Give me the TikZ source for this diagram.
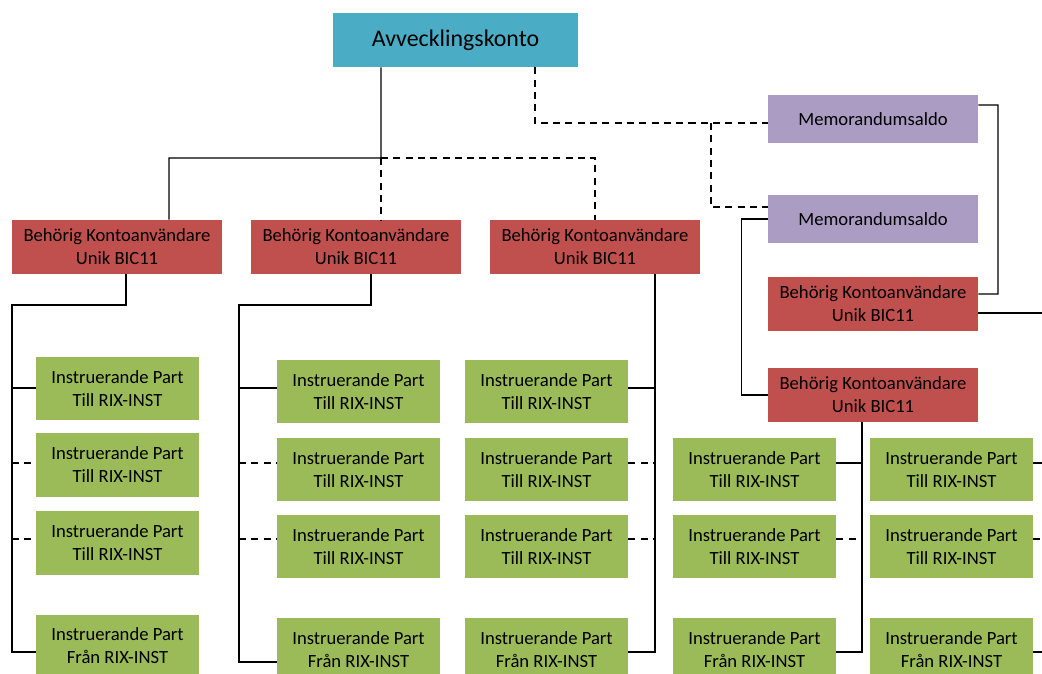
\documentclass[tikz,border=0pt]{standalone}
\usepackage{fontspec}
\setmainfont{Carlito}

\definecolor{kontoblue}{RGB}{75,172,198}
\definecolor{userred}{RGB}{192,80,77}
\definecolor{memopurple}{RGB}{170,156,195}
\definecolor{partgreen}{RGB}{155,187,89}

\begin{document}
\begin{tikzpicture}[x=0.2cm, y=0.2cm,
  box/.style={inner sep=0pt, align=center, font=\fontsize{10.6}{13.1}\selectfont},
  konto/.style={box, fill=kontoblue, minimum width=4.9cm, minimum height=1.08cm, font=\fontsize{13.6}{16}\selectfont},
  user/.style={box, fill=userred, minimum width=4.2cm, minimum height=1.08cm},
  memo/.style={box, fill=memopurple, minimum width=4.2cm, minimum height=0.96cm},
  part/.style={box, fill=partgreen, minimum width=3.26cm, minimum height=1.26cm},
  link/.style={line width=0.7pt},
  dlink/.style={line width=0.6pt, dash pattern=on 4pt off 3pt}]
\useasboundingbox (0,0) rectangle (104.2,-67.4);
\node[konto] (konto) at (45.55,-4.0) {Avvecklingskonto};
\node[user] (bk1) at (11.7,-24.7) {Behörig Kontoanvändare\\Unik BIC11};
\node[user] (bk2) at (35.6,-24.7) {Behörig Kontoanvändare\\Unik BIC11};
\node[user] (bk3) at (59.5,-24.7) {Behörig Kontoanvändare\\Unik BIC11};
\node[memo] (memo1) at (87.3,-11.9) {Memorandumsaldo};
\node[memo] (memo2) at (87.3,-21.9) {Memorandumsaldo};
\node[user] (bk4) at (87.3,-30.4) {Behörig Kontoanvändare\\Unik BIC11};
\node[user] (bk5) at (87.3,-39.5) {Behörig Kontoanvändare\\Unik BIC11};
\node[part] (g11) at (11.75,-38.85) {Instruerande Part\\Till RIX-INST};
\node[part] (g12) at (11.75,-46.5) {Instruerande Part\\Till RIX-INST};
\node[part] (g13) at (11.75,-54.3) {Instruerande Part\\Till RIX-INST};
\node[part] (g14) at (11.75,-64.6) {Instruerande Part\\Från RIX-INST};
\node[part] (g21) at (35.85,-39.15) {Instruerande Part\\Till RIX-INST};
\node[part] (g22) at (35.85,-46.95) {Instruerande Part\\Till RIX-INST};
\node[part] (g23) at (35.85,-54.65) {Instruerande Part\\Till RIX-INST};
\node[part] (g24) at (35.85,-64.95) {Instruerande Part\\Från RIX-INST};
\node[part] (g31) at (54.65,-39.15) {Instruerande Part\\Till RIX-INST};
\node[part] (g32) at (54.65,-46.95) {Instruerande Part\\Till RIX-INST};
\node[part] (g33) at (54.65,-54.65) {Instruerande Part\\Till RIX-INST};
\node[part] (g34) at (54.65,-64.95) {Instruerande Part\\Från RIX-INST};
\node[part] (g42) at (75.45,-46.95) {Instruerande Part\\Till RIX-INST};
\node[part] (g43) at (75.45,-54.65) {Instruerande Part\\Till RIX-INST};
\node[part] (g44) at (75.45,-64.95) {Instruerande Part\\Från RIX-INST};
\node[part] (g52) at (95.15,-46.95) {Instruerande Part\\Till RIX-INST};
\node[part] (g53) at (95.15,-54.65) {Instruerande Part\\Till RIX-INST};
\node[part] (g54) at (95.15,-64.95) {Instruerande Part\\Från RIX-INST};
\coordinate (hub) at (38.1,-15.8);
\coordinate (mj) at (71.1,-12.3);
\coordinate (rj) at (99.8,-10.5);
\coordinate (rim) at (104.2,0);
\coordinate (lane1) at (1.2,-30.5);
\coordinate (lane2) at (23.9,-30.5);
\coordinate (lane3) at (65.5,0);
\coordinate (lane4) at (86.2,0);
\coordinate (r0) at (0,-31.3);
\coordinate (r1) at (0,-38.8);
\coordinate (r2) at (0,-46.3);
\coordinate (r3) at (0,-53.9);
\coordinate (r4) at (0,-65.2);
\coordinate (r5) at (0,-66.2);
\draw[link] ([xshift=-1.49cm]konto.south) -- (hub) -| ([xshift=1.04cm]bk1.north);
\draw[dlink] (hub) -- (hub |- bk2.north);
\draw[dlink] (hub) -| (bk3.north);
\draw[dlink] ([xshift=1.59cm]konto.south) |- (mj) -- (mj -| memo1.west);
\draw[dlink] (mj) |- ([yshift=0.24cm]memo2.west);
\draw[link] ([yshift=0.28cm]memo1.east) -- (rj) |- ([yshift=0.2cm]bk4.east);
\draw[link] (bk4.east |- r0) -- (rim |- r0);
\draw[link] (memo2.west) -- ++(-0.52cm,0) |- (bk5.west);
\draw[link] ([xshift=0.18cm]bk1.south) |- (lane1) |- (g14.west |- r4);
\draw[link] (lane1 |- r1) -- (g11.west |- r1);
\draw[dlink] (lane1 |- r2) -- (g12.west |- r2);
\draw[dlink] (lane1 |- r3) -- (g13.west |- r3);
\draw[link] ([xshift=0.3cm]bk2.south) |- (lane2) |- (g24.west |- r5);
\draw[link] (lane2 |- r1) -- (g21.west |- r1);
\draw[dlink] (lane2 |- r2) -- (g22.west |- r2);
\draw[dlink] (lane2 |- r3) -- (g23.west |- r3);
\draw[link] (lane3 |- bk3.south) -- (lane3 |- r4) -- (g34.east |- r4);
\draw[link] (g31.east |- r1) -- (lane3 |- r1);
\draw[dlink] (g32.east |- r2) -- (lane3 |- r2);
\draw[dlink] (g33.east |- r3) -- (lane3 |- r3);
\draw[link] (lane4 |- bk5.south) -- (lane4 |- r4) -- (g44.east |- r4);
\draw[link] (g42.east |- r2) -- (lane4 |- r2);
\draw[dlink] (g43.east |- r3) -- (lane4 |- r3);
\draw[link] (g52.east |- r2) -- (rim |- r2);
\draw[dlink] (g53.east |- r3) -- (rim |- r3);
\draw[link] (g54.east |- r4) -- (rim |- r4);
\end{tikzpicture}
\end{document}
